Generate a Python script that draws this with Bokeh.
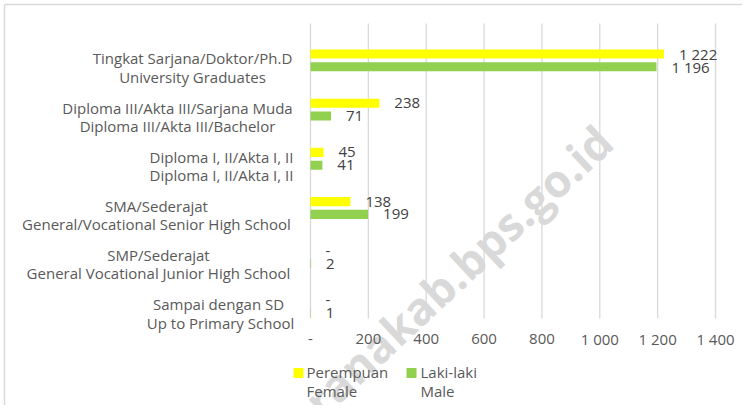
from bokeh.plotting import figure
from bokeh.models import ColumnDataSource, Range1d
from bokeh.embed import file_html
from bokeh.resources import INLINE
from bokeh.core.properties import value

# ---------------- data ----------------
categories_id = ["Tingkat Sarjana/Doktor/Ph.D", "Diploma III/Akta III/Sarjana Muda",
                 "Diploma I, II/Akta I, II", "SMA/Sederajat", "SMP/Sederajat",
                 "Sampai dengan SD "]
categories_en = ["University Graduates", "Diploma III/Akta III/Bachelor",
                 "Diploma I, II/Akta I, II", "General/Vocational Senior High School",
                 "General Vocational Junior High School", "Up to Primary School"]
female = [1222, 238, 45, 138, 0, 0]
male = [1196, 71, 41, 199, 2, 1]
x_ticks = [0, 200, 400, 600, 800, 1000, 1200, 1400]
x_tick_labels = ["-", "200", "400", "600", "800", "1 000", "1 200", "1 400"]
series_names = ["Perempuan\nFemale", "Laki-laki\nMale"]
watermark = "https://jembranakab.bps.go.id"

# ---------------- layout / style ----------------
W, H = 742, 405
FONT = "Open Sans"
TXT = "#595959"
VAL = "#404040"
YELLOW = "#FFFF00"
GREEN = "#92D050"
series_colors = [YELLOW, GREEN]
GRID = "#d9d9d9"
PX_X0 = 310                 # canvas px of value 0
PX_PER_X = 405 / 1400       # px per unit
PX_Y0 = 67                  # canvas px of first category centre
PX_PER_CAT = 49.2
PLOT_TOP_PX, PLOT_BOTTOM_PX = 23, 318
TICK_LABEL_PX = 338
BORDER_PX = 4
label_centers_px = [192, 177, 221, 156, 158, 220]
legend_swatch_px = [298, 411]
legend_text_px = [306, 420]
LEGEND_ROW1_PX, LEGEND_BLOCK_PX = 372.5, 381
OFF_F, OFF_M, BAR_H = -0.274, -0.014, 0.185
LINE_H = 0.92


def xd(px):
    return (px - PX_X0) / PX_PER_X


def yd(px):
    return (px - PX_Y0) / PX_PER_CAT


def fmt(v):
    return "-" if v == 0 else f"{v:,}".replace(",", " ")


idx = list(range(len(categories_id)))

p = figure(width=W, height=H, min_border=0,
           x_range=Range1d(xd(0), xd(W)), y_range=Range1d(yd(H), yd(0)),
           x_axis_location=None, y_axis_location=None,
           output_backend="svg", toolbar_location=None)
p.outline_line_color = None
p.grid.visible = False
p.background_fill_color = "white"
p.border_fill_color = "white"

# chart-area border (top and left edges visible in the reference)
p.segment(x0=[xd(BORDER_PX), xd(BORDER_PX)], y0=[yd(BORDER_PX), yd(BORDER_PX)],
          x1=[xd(W), xd(BORDER_PX)], y1=[yd(BORDER_PX), yd(H)],
          line_color="#d9d9d9", line_width=1.5)

# watermark (behind everything)
p.text(x=[xd(604)], y=[yd(133)], text=[watermark], angle=43, angle_units="deg",
       text_align="right", text_baseline="middle", text_font=value(FONT),
       text_font_size="45px", text_font_style="bold", text_color="#d9d9d9", level="underlay")

# gridlines
p.segment(x0=x_ticks, x1=x_ticks, y0=[yd(PLOT_TOP_PX)] * len(x_ticks),
          y1=[yd(PLOT_BOTTOM_PX)] * len(x_ticks), line_color=GRID, line_width=1.3)

# tick labels
p.text(x=x_ticks, y=[yd(TICK_LABEL_PX)] * len(x_ticks), text=x_tick_labels,
       text_align="center", text_baseline="middle", text_font=value(FONT),
       text_font_size="15px", text_color=TXT)

src_f = ColumnDataSource(dict(y=[i + OFF_F for i in idx], v=female, t=[fmt(v) for v in female]))
src_m = ColumnDataSource(dict(y=[i + OFF_M for i in idx], v=male, t=[fmt(v) for v in male]))

p.hbar(y="y", right="v", left=0, height=BAR_H, source=src_f,
       fill_color=YELLOW, line_color=None)
p.hbar(y="y", right="v", left=0, height=BAR_H, source=src_m,
       fill_color=GREEN, line_color=None)

# value labels
for src in (src_f, src_m):
    p.text(x="v", y="y", text="t", source=src, x_offset=15,
           text_align="left", text_baseline="middle",
           text_font=value(FONT), text_font_size="15px", text_color=VAL)

# category labels
p.text(x=[xd(c) for c in label_centers_px], y=idx,
       text=[a + "\n" + b for a, b in zip(categories_id, categories_en)],
       text_align="center", text_baseline="middle", text_line_height=LINE_H,
       text_font=value(FONT), text_font_size="15px", text_color=TXT)

# legend
p.scatter(x=[xd(c) for c in legend_swatch_px], y=[yd(LEGEND_ROW1_PX)] * 2,
          marker="square", size=10, fill_color=series_colors, line_color=None)
p.text(x=[xd(c) for c in legend_text_px], y=[yd(LEGEND_BLOCK_PX)] * 2, text=series_names,
       text_align="left", text_baseline="middle", text_line_height=LINE_H,
       text_font=value(FONT), text_font_size="15px", text_color=TXT)

open("out.html", "w").write(file_html(p, INLINE))
